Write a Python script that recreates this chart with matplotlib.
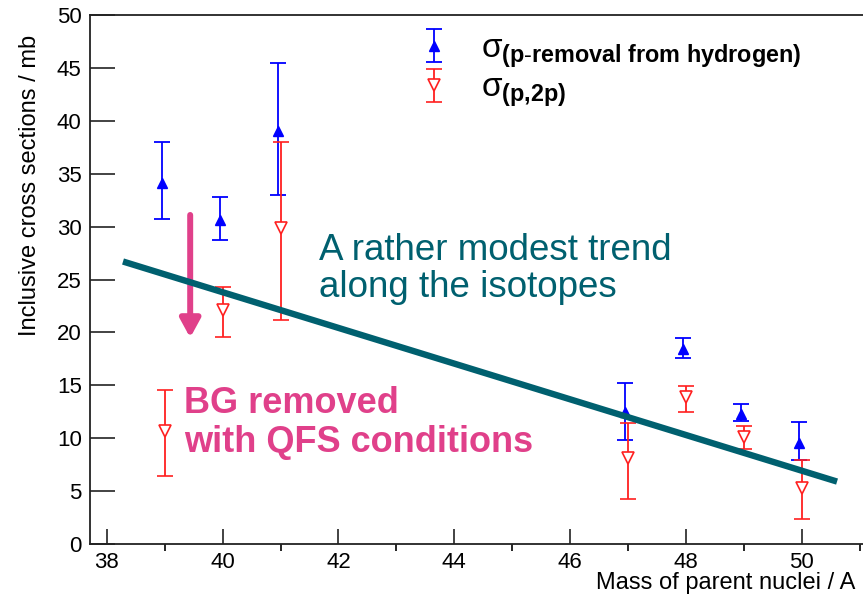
import matplotlib
matplotlib.use('Agg')
import matplotlib.pyplot as plt
import numpy as np

# data
mass = [39, 40, 41, 47, 48, 49, 50]

sig_removal = [34.1, 30.6, 39.0, 12.5, 18.4, 12.3, 9.5]
sig_removal_hi = [38.0, 32.8, 45.5, 15.2, 19.5, 13.2, 11.5]
sig_removal_lo = [30.7, 28.7, 33.0, 9.8, 17.6, 11.6, 7.9]

sig_p2p = [10.7, 22.1, 29.9, 8.1, 13.9, 10.1, 5.3]
sig_p2p_hi = [14.6, 24.3, 38.0, 11.4, 14.9, 11.2, 7.9]
sig_p2p_lo = [6.4, 19.6, 21.2, 4.3, 12.5, 9.0, 2.4]

trend_x = [38.28, 50.61]
trend_y = [26.7, 5.9]

bg_arrow_x = 39.44
bg_arrow_y = [31.1, 19.5]

teal = '#00606f'
pink = '#e0408a'

plt.rcParams['font.family'] = ['Liberation Sans', 'DejaVu Sans']
plt.rcParams['mathtext.fontset'] = 'custom'
plt.rcParams['mathtext.rm'] = 'Liberation Sans'
plt.rcParams['mathtext.bf'] = 'Liberation Sans:bold'
plt.rcParams['mathtext.it'] = 'Liberation Sans:italic'

fig = plt.figure(figsize=(8.63, 6.01), dpi=100)
ax = fig.add_axes([90 / 863, 57 / 601, 787 / 863, 529 / 601])

m = np.array(mass, dtype=float)
y1 = np.array(sig_removal)
y2 = np.array(sig_p2p)
err1 = [y1 - np.array(sig_removal_lo), np.array(sig_removal_hi) - y1]
err2 = [y2 - np.array(sig_p2p_lo), np.array(sig_p2p_hi) - y2]

h1 = ax.errorbar(m - 0.05, y1, yerr=err1, fmt='^', color='#0000ff', ms=7,
                 capsize=5.5, elinewidth=1.3, capthick=1.3, zorder=3)
h2 = ax.errorbar(m, y2, yerr=err2, fmt='v', color='#ff2020', mfc='white',
                 mec='#ff2020', mew=1.2, ms=9, capsize=5.5, elinewidth=1.3,
                 capthick=1.3, zorder=3)

ax.plot(trend_x, trend_y, color=teal, lw=4.6, solid_capstyle='butt', zorder=4)

ax.annotate('', xy=(bg_arrow_x, bg_arrow_y[1]), xytext=(bg_arrow_x, bg_arrow_y[0]),
            arrowprops=dict(arrowstyle='-|>,head_width=0.3,head_length=0.55',
                            mutation_scale=20, lw=4.3, color=pink,
                            shrinkA=0, shrinkB=0))

ax.text(41.66, 26.0, 'A rather modest trend\nalong the isotopes', color=teal,
        fontsize=26.5, va='center', ha='left', linespacing=1.1)
ax.text(39.33, 11.4, 'BG removed\nwith QFS conditions', color=pink,
        fontsize=26, fontweight='bold', va='center', ha='left', linespacing=1.15)

ax.legend([h1, h2],
          [r'σ$_{\mathbf{(p}\mathbf{\text{-}removal\ from\ hydrogen)}}$',
           r'σ$_{\mathbf{(p{,}2p)}}$'],
          loc='upper left', bbox_to_anchor=(0.389, 1.0), frameon=False,
          fontsize=24, handlelength=1.2, handletextpad=0.8, labelspacing=0.1,
          borderaxespad=0.15)

ax.set_xlim(37.71, 51.3)
ax.set_ylim(0, 50)
ax.set_xticks([38, 40, 42, 44, 46, 48, 50])
ax.set_xticks(np.arange(39, 52, 2), minor=True)
ax.set_yticks(np.arange(0, 51, 5))
ax.tick_params(axis='both', direction='in', labelsize=16, width=1.2, color='#222222')
ax.tick_params(axis='y', length=18, pad=6)
ax.tick_params(axis='x', which='major', length=11, pad=6)
ax.tick_params(axis='x', which='minor', length=5, width=1.2)
for s in ['left', 'bottom', 'top']:
    ax.spines[s].set_linewidth(1.3)
    ax.spines[s].set_color('#222222')
ax.spines['right'].set_visible(False)

fig.text(30 / 863, 1 - 35 / 601, 'Inclusive cross sections / mb', rotation=90,
         ha='center', va='top', fontsize=17)
fig.text(855 / 863, 1 - 583 / 601, 'Mass of parent nuclei / A',
         ha='right', va='center', fontsize=17)

fig.savefig('out.png', dpi=100)
